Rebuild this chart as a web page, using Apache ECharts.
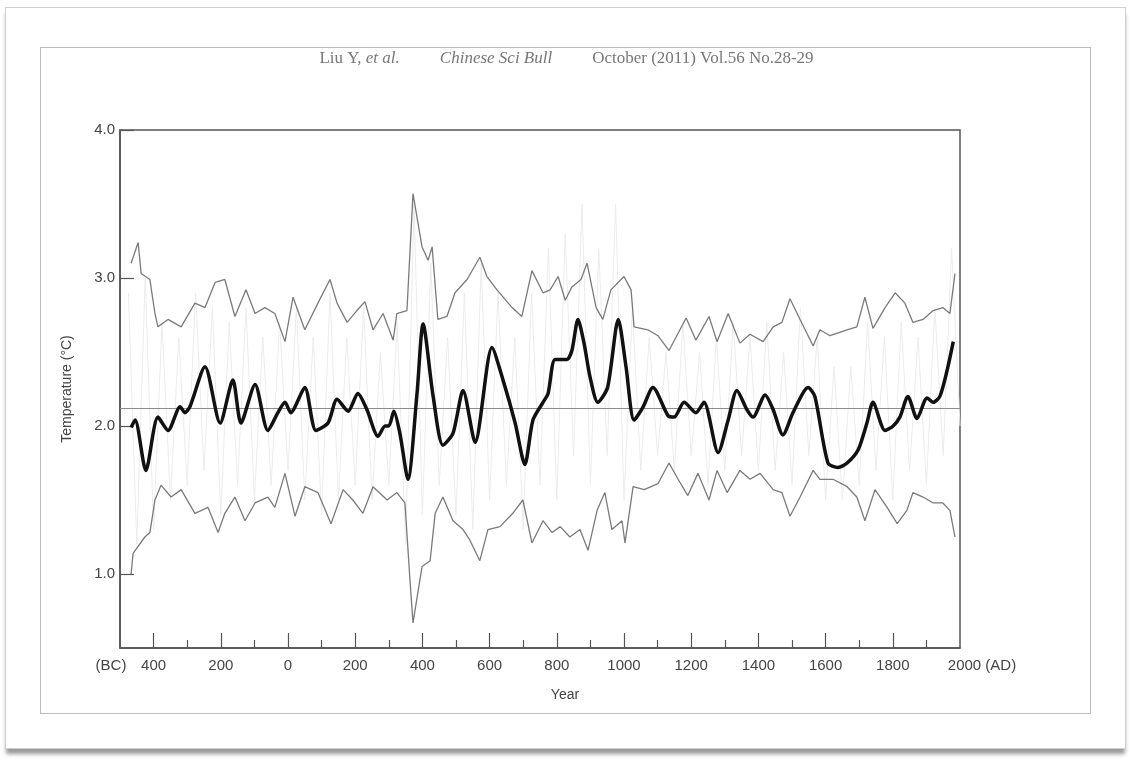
<!DOCTYPE html>
<html>
<head>
<meta charset="utf-8">
<script src="https://cdn.jsdelivr.net/npm/echarts@6/dist/echarts.min.js"></script>
<style>
  html, body { margin: 0; padding: 0; background: #ffffff; }
  #card { position: absolute; left: 5px; top: 7px; width: 1119px; height: 740px;
          border: 1px solid #cfcfcf; box-shadow: 0 6px 4px -1px #9a9a9a; background: #fff; }
  #frame { position: absolute; left: 40px; top: 47px; width: 1049px; height: 665px;
           border: 1.5px solid #bdbdbd; }
  #chart { position: absolute; left: 0; top: 0; width: 1133px; height: 760px; }
</style>
</head>
<body>
<div id="card"></div>
<div id="frame"></div>
<div id="chart"></div>
<script>
// ---- data ----
var meanTemp = 2.12;

var mainYears = [-467,-455,-423,-387,-357,-321,-307,-292,-247,-202,-164,-140,-98,-60,-30,-9,8,50,83,119,146,179,208,235,268,289,300,315,333,357,384,402,432,461,491,521,557,607,640,676,705,729,759,774,795,830,845,863,881,899,922,951,983,1006,1030,1057,1086,1131,1149,1179,1214,1238,1280,1310,1336,1366,1384,1420,1444,1473,1503,1548,1568,1607,1637,1664,1697,1723,1741,1777,1801,1821,1845,1872,1902,1920,1940,1961,1980];
var mainValues = [1.99,2.04,1.70,2.06,1.97,2.13,2.09,2.13,2.40,2.02,2.31,2.02,2.28,1.97,2.09,2.16,2.09,2.26,1.97,2.02,2.18,2.10,2.22,2.11,1.93,2.00,2.00,2.10,1.95,1.64,2.22,2.69,2.20,1.87,1.95,2.24,1.89,2.53,2.31,2.02,1.74,2.04,2.16,2.22,2.45,2.45,2.51,2.72,2.56,2.33,2.16,2.26,2.72,2.40,2.04,2.13,2.26,2.07,2.06,2.16,2.09,2.16,1.82,2.04,2.24,2.11,2.06,2.21,2.11,1.94,2.09,2.26,2.20,1.75,1.72,1.75,1.84,2.02,2.16,1.97,2.00,2.06,2.20,2.05,2.19,2.16,2.20,2.37,2.57];

var upperYears = [-467,-446,-437,-411,-396,-387,-357,-318,-277,-247,-217,-188,-158,-125,-98,-69,-39,-9,15,50,89,125,146,176,205,229,253,283,313,324,354,372,399,417,429,446,473,497,533,571,592,622,667,696,726,759,780,804,825,845,872,890,917,937,961,1000,1021,1030,1071,1101,1134,1185,1214,1253,1277,1310,1345,1375,1414,1444,1470,1494,1524,1563,1583,1613,1664,1693,1717,1741,1777,1807,1836,1860,1890,1920,1949,1970,1985];
var upperValues = [3.10,3.24,3.03,2.99,2.76,2.67,2.72,2.67,2.83,2.80,2.97,2.99,2.74,2.92,2.76,2.80,2.76,2.57,2.87,2.65,2.83,2.99,2.83,2.70,2.78,2.84,2.65,2.76,2.58,2.76,2.78,3.57,3.21,3.12,3.21,2.72,2.74,2.90,2.99,3.14,3.01,2.92,2.80,2.74,3.05,2.90,2.92,3.01,2.85,2.94,2.99,3.10,2.80,2.72,2.92,3.01,2.92,2.67,2.65,2.61,2.51,2.73,2.58,2.74,2.57,2.76,2.56,2.62,2.57,2.67,2.70,2.86,2.72,2.54,2.65,2.61,2.65,2.67,2.87,2.66,2.80,2.90,2.83,2.70,2.72,2.78,2.80,2.76,3.03];

var lowerYears = [-467,-461,-426,-411,-396,-378,-348,-318,-277,-238,-208,-188,-158,-128,-98,-60,-39,-9,21,50,89,128,164,193,223,253,295,324,348,363,372,399,423,438,461,491,521,541,571,595,631,669,699,726,759,786,810,839,869,893,920,943,964,994,1003,1027,1060,1101,1134,1161,1190,1220,1253,1277,1307,1345,1375,1405,1444,1470,1494,1524,1563,1583,1622,1664,1693,1717,1747,1783,1813,1842,1860,1890,1920,1949,1970,1985];
var lowerValues = [1.00,1.14,1.25,1.28,1.50,1.60,1.52,1.57,1.41,1.45,1.28,1.41,1.52,1.36,1.48,1.52,1.45,1.68,1.39,1.59,1.55,1.34,1.57,1.50,1.41,1.59,1.50,1.55,1.48,0.96,0.67,1.05,1.09,1.41,1.52,1.36,1.30,1.23,1.09,1.30,1.32,1.41,1.50,1.21,1.36,1.28,1.32,1.25,1.30,1.16,1.43,1.55,1.30,1.36,1.21,1.59,1.57,1.61,1.75,1.64,1.53,1.68,1.50,1.70,1.55,1.70,1.64,1.68,1.57,1.55,1.39,1.52,1.70,1.64,1.64,1.59,1.52,1.36,1.57,1.45,1.34,1.43,1.55,1.52,1.48,1.48,1.43,1.25];

var rawYears = [-475,-450,-425,-400,-375,-350,-325,-300,-275,-250,-225,-200,-175,-150,-125,-100,-75,-50,-25,0,25,50,75,100,125,150,175,200,225,250,275,300,325,350,375,400,425,450,475,500,525,550,575,600,625,650,675,700,725,750,775,800,825,850,875,900,925,950,975,1000,1025,1050,1075,1100,1125,1150,1175,1200,1225,1250,1275,1300,1325,1350,1375,1400,1425,1450,1475,1500,1525,1550,1575,1600,1625,1650,1675,1700,1725,1750,1775,1800,1825,1850,1875,1900,1925,1950,1975,2000];
var rawValues = [2.9,1.2,3.0,1.3,2.7,1.5,2.6,1.6,2.9,1.7,2.8,1.4,2.7,1.6,2.8,1.5,2.6,1.6,2.7,1.7,2.8,1.5,2.6,1.4,2.9,1.5,2.6,1.6,2.8,1.5,2.5,1.6,2.7,1.2,3.5,1.4,3.1,1.6,2.6,1.4,2.9,1.3,3.1,1.5,2.9,1.6,2.6,1.3,2.9,1.6,3.2,1.5,3.3,1.8,3.5,1.6,3.2,1.8,3.5,1.5,2.8,1.7,2.6,1.8,2.5,1.7,2.7,1.8,2.5,1.6,2.6,1.7,2.7,1.8,2.6,1.7,2.7,1.7,2.5,1.6,2.8,1.8,2.6,1.5,2.4,1.5,2.4,1.6,2.7,1.7,2.6,1.5,2.7,1.7,2.6,1.6,2.8,1.8,3.2,2.0];

var xMajorTicks = [-400,-200,0,200,400,600,800,1000,1200,1400,1600,1800];
var xMinorTicks = [-300,-100,100,300,500,700,900,1100,1300,1500,1700,1900];
var xLabelValues = [-500,-400,-200,0,200,400,600,800,1000,1200,1400,1600,1800,2000];
var yTickValues = [1,2,3,4];

var titleParts = ['Liu Y, ', 'et al.', 'Chinese Sci Bull', 'October (2011) Vol.56 No.28-29'];

function pairs(xs, ys) { return xs.map(function (x, i) { return [x, ys[i]]; }); }

var chart = echarts.init(document.getElementById('chart'), null, { renderer: 'canvas' });
var axisColor = '#555';
var textColor = '#444';

chart.setOption({
  animation: false,
  backgroundColor: 'transparent',
  title: {
    left: 'center', top: 45,
    text: '{n|' + titleParts[0] + '}{i|' + titleParts[1] + '}{g|}{i|' + titleParts[2] + '}{g|}{n|' + titleParts[3] + '}',
    textStyle: {
      fontWeight: 'normal',
      rich: {
        n: { fontFamily: 'Liberation Serif', fontSize: 17, color: '#777', fontWeight: 'normal' },
        i: { fontFamily: 'Liberation Serif', fontSize: 17, color: '#777', fontStyle: 'italic', fontWeight: 'normal' },
        g: { width: 40 }
      }
    }
  },
  grid: { left: 120, top: 130, right: 173, bottom: 112, show: true, borderColor: axisColor, borderWidth: 1.5, backgroundColor: 'transparent' },
  xAxis: [{
    type: 'value', min: -500, max: 2000, position: 'bottom',
    name: 'Year', nameLocation: 'middle', nameGap: 40,
    nameTextStyle: { fontFamily: 'Liberation Sans', fontSize: 14, color: textColor, padding: [0, 0, 0, 50] },
    axisLine: { show: true, onZero: false, lineStyle: { color: axisColor, width: 1.5 } },
    axisTick: { show: true, inside: true, length: 15, customValues: xMajorTicks, lineStyle: { color: axisColor, width: 1.2 } },
    axisLabel: {
      show: true, customValues: xLabelValues, margin: 10, showMinLabel: true, showMaxLabel: true,
      fontFamily: 'Liberation Sans', fontSize: 15, color: textColor,
      formatter: function (v) {
        if (v === -500) return '{t|(BC)}{sp|}';
        if (v === 2000) return '{wp|}{t|2000 (AD)}';
        return '{t|' + Math.abs(v) + '}';
      },
      rich: {
        t: { fontFamily: 'Liberation Sans', fontSize: 15, color: textColor },
        sp: { width: 18 },
        wp: { width: 44 }
      }
    },
    splitLine: { show: false }
  }, {
    type: 'value', min: -500, max: 2000, position: 'bottom', offset: 0,
    axisLine: { show: false, onZero: false },
    axisTick: { show: true, inside: true, length: 8, customValues: xMinorTicks, lineStyle: { color: axisColor, width: 1.2 } },
    axisLabel: { show: false },
    splitLine: { show: false }
  }],
  yAxis: {
    type: 'value', min: 0.5, max: 4, position: 'left',
    name: 'Temperature (\u00B0C)', nameLocation: 'middle', nameGap: 46,
    nameTextStyle: { fontFamily: 'Liberation Sans', fontSize: 14, color: textColor },
    axisLine: { show: true, onZero: false, lineStyle: { color: axisColor, width: 1.5 } },
    axisTick: { show: true, inside: true, length: 14, customValues: yTickValues, lineStyle: { color: axisColor, width: 1.2 } },
    axisLabel: {
      customValues: yTickValues, margin: 5,
      fontFamily: 'Liberation Sans', fontSize: 15, color: textColor,
      formatter: function (v) { return v.toFixed(1); }
    },
    splitLine: { show: false }
  },
  series: [{
    name: 'raw', type: 'line', data: pairs(rawYears, rawValues), symbol: 'none',
    lineStyle: { color: '#ececec', width: 1 }, z: 1, silent: true
  }, {
    name: 'upper', type: 'line', data: pairs(upperYears, upperValues), symbol: 'none',
    lineStyle: { color: '#7a7a7a', width: 1.3 }, z: 2, silent: true
  }, {
    name: 'lower', type: 'line', data: pairs(lowerYears, lowerValues), symbol: 'none',
    lineStyle: { color: '#7a7a7a', width: 1.3 }, z: 2, silent: true
  }, {
    name: 'mean', type: 'line', data: pairs(mainYears, mainValues), symbol: 'none', smooth: 0.25,
    lineStyle: { color: '#111', width: 3.5 }, z: 4, silent: true,
    markLine: {
      silent: true, symbol: 'none', label: { show: false },
      lineStyle: { color: '#8c8c8c', width: 1, type: 'solid' },
      data: [{ yAxis: meanTemp }], z: 3
    }
  }]
});
</script>
</body>
</html>
